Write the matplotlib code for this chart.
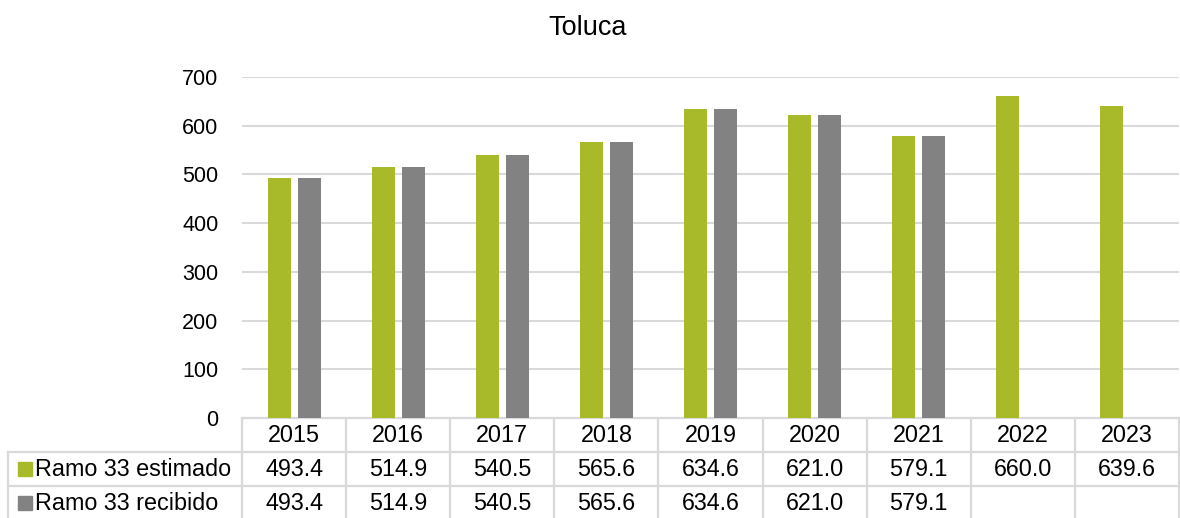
import matplotlib
matplotlib.use("Agg")
import matplotlib.pyplot as plt
from matplotlib.patches import Rectangle

plt.rcParams['font.family'] = ['Liberation Sans', 'DejaVu Sans']

years = ['2015', '2016', '2017', '2018', '2019', '2020', '2021', '2022', '2023']
estimado = [493.4, 514.9, 540.5, 565.6, 634.6, 621.0, 579.1, 660.0, 639.6]
recibido = [493.4, 514.9, 540.5, 565.6, 634.6, 621.0, 579.1, None, None]
series_names = ['Ramo 33 estimado', 'Ramo 33 recibido']
yticks = [0, 100, 200, 300, 400, 500, 600, 700]

green = '#A8B92A'
grey = '#828282'
line_c = '#D9D9D9'

W, H = 1180, 518
left_px, right_px, top_px, bot_px = 242, 1179, 77, 418
fig = plt.figure(figsize=(W / 100, H / 100), dpi=100)
ax = fig.add_axes([left_px / W, (H - bot_px) / H, (right_px - left_px) / W, (bot_px - top_px) / H])

n = len(years)
x = list(range(n))
bw = 0.221
off = 0.144
ax.bar([i - off for i in x], estimado, width=bw, color=green, zorder=3)
rx = [i + off for i, v in enumerate(recibido) if v is not None]
rv = [v for v in recibido if v is not None]
ax.bar(rx, rv, width=bw, color=grey, zorder=3)

ax.set_xlim(-0.5, n - 0.5)
ax.set_ylim(0, 700)
ax.set_yticks(yticks)
ax.set_yticklabels([str(t) for t in yticks], fontsize=15.5)
ax.tick_params(axis='y', length=0, pad=17)
ax.set_xticks([])
ax.grid(axis='y', color=line_c, linewidth=1.5, zorder=0)
for s in ax.spines.values():
    s.set_visible(False)

fig.text(588 / W, 1 - 28 / H, 'Toluca', fontsize=19.5, ha='center', va='center')

# data table below the axes
px = 1 / (bot_px - top_px)  # one pixel in axes-fraction units (y)
cat_w = (right_px - left_px) / n  # pixels per category
row_h = 34 * px
tr = ax.get_xaxis_transform()
lw = 1.6
fs = 16.8
rows = [estimado, recibido]
label_left = -0.5 - (left_px - 8) / cat_w
# horizontal lines
ax.plot([-0.5, n - 0.5], [0, 0], transform=tr, color=line_c, lw=lw, clip_on=False)
for r in range(1, 4):
    y = -r * row_h
    ax.plot([label_left, n - 0.5], [y, y], transform=tr, color=line_c, lw=lw, clip_on=False)
# vertical lines
for k in range(n + 1):
    ax.plot([k - 0.5, k - 0.5], [0, -3 * row_h], transform=tr, color=line_c, lw=lw, clip_on=False)
ax.plot([label_left, label_left], [-row_h, -3 * row_h], transform=tr, color=line_c, lw=lw, clip_on=False)

for i, yr in enumerate(years):
    ax.text(i, -0.5 * row_h, yr, transform=tr, ha='center', va='center', fontsize=fs)
for r, vals in enumerate(rows):
    yc = -(r + 1.5) * row_h
    for i, v in enumerate(vals):
        if v is not None:
            ax.text(i, yc, f'{v:.1f}', transform=tr, ha='center', va='center', fontsize=fs)

colors = [green, grey]
for r, name in enumerate(series_names):
    yc = -(r + 1.5) * row_h
    sq = 14 * px
    sx = label_left + 10 / cat_w
    ax.add_patch(Rectangle((sx, yc - sq / 2), 14 / cat_w, sq, transform=tr,
                           color=colors[r], clip_on=False))
    ax.text(sx + 17 / cat_w, yc, name, transform=tr, ha='left', va='center', fontsize=fs)

fig.savefig('out.png', dpi=100)
